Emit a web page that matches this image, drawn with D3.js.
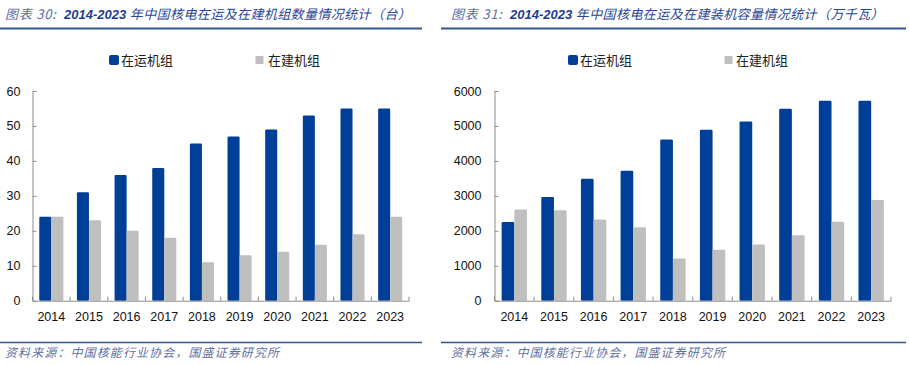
<!DOCTYPE html>
<html><head><meta charset="utf-8">
<script src="https://cdn.jsdelivr.net/npm/d3@7"></script>
<style>
body{margin:0;background:#fff;}
svg{display:block;}
</style></head>
<body>
<svg id="c" width="909" height="365"></svg>
<script>
const years = ["2014","2015","2016","2017","2018","2019","2020","2021","2022","2023"];
const seriesNames = ["在运机组","在建机组"];
const unitsOperating = [24,31,36,38,45,47,49,53,55,55];
const unitsBuilding  = [24,23,20,18,11,13,14,16,19,24];
const capOperating = [2250,2970,3490,3720,4610,4890,5130,5490,5720,5720];
const capBuilding  = [2610,2590,2320,2100,1210,1460,1610,1870,2260,2880];
const unitsTicks = [0,10,20,30,40,50,60];
const capTicks = [0,1000,2000,3000,4000,5000,6000];
const titleLeft = ["图表 30:","  2014-2023 ","年中国核电在运及在建机组数量情况统计（台）"];
const titleRight = ["图表 31:","  2014-2023 ","年中国核电在运及在建装机容量情况统计（万千瓦）"];
const sourceText = "资料来源：中国核能行业协会，国盛证券研究所";

const colors = ["#003F98","#BFBFBF"];
const svg = d3.select("#c");
const numFont = "'Liberation Sans', Arial, sans-serif";
const cjkFont = "'Noto Sans CJK SC', sans-serif";

function panel(opt){
  const g = svg.append("g");
  // title
  const t = g.append("text").attr("x", opt.titleX).attr("y", 19)
    .attr("font-size", 13).attr("font-style","italic").attr("font-family", cjkFont)
    .attr("xml:space","preserve");
  t.append("tspan").attr("fill","#5b6aa6").attr("letter-spacing",0.8).text(opt.title[0]);
  t.append("tspan").attr("fill","#1f3d8f").attr("font-weight","bold").attr("font-family", numFont).text(opt.title[1]);
  t.append("tspan").attr("fill","#2a4596").attr("letter-spacing",0.4).text(opt.title[2]);
  g.append("line").attr("x1", opt.lineX0).attr("x2", opt.lineX1).attr("y1",28.5).attr("y2",28.5)
    .attr("stroke","#2F5597").attr("stroke-width",2);
  g.append("line").attr("x1", opt.lineX0).attr("x2", opt.lineX1).attr("y1",342.5).attr("y2",342.5)
    .attr("stroke","#2F5597").attr("stroke-width",1.5);
  g.append("text").attr("x", opt.titleX).attr("y", 357).attr("font-size",12).attr("font-style","italic")
    .attr("letter-spacing",1.1)
    .attr("font-family", cjkFont).attr("fill","#5f6f9f").text(sourceText);

  // legend
  const lg = g.append("g");
  opt.legend.forEach((L,i)=>{
    const s = i===0 ? 10 : 8;
    lg.append("rect").attr("x", L[0]).attr("y", 60 - s/2).attr("width", s).attr("height", s)
      .attr("rx", i===0?2:0).attr("fill", colors[i]);
    lg.append("text").attr("x", L[1]).attr("y", 64.5).attr("font-size",13).attr("font-family", cjkFont)
      .attr("fill","#222").text(seriesNames[i]);
  });

  const x = d3.scaleBand().domain(years).range([opt.x0, opt.x1]).padding(0);
  const step = x.step();
  const inner = d3.scaleBand().domain([0,1]).range([step*0.18, step*0.82]).padding(0);
  const y = d3.scaleLinear().domain([0, opt.max]).range([300.7, 91]);

  // bars
  [opt.a, opt.b].forEach((vals,si)=>{
    g.append("g").selectAll("rect").data(vals).join("rect")
      .attr("x",(d,i)=>x(years[i])+inner(si))
      .attr("width", inner.bandwidth())
      .attr("y", d=>y(d))
      .attr("height", d=>y(0)-y(d))
      .attr("rx",1.2)
      .attr("fill", colors[si]);
  });

  // y axis
  const ya = g.append("g").attr("transform",`translate(${opt.x0},0)`)
    .call(d3.axisLeft(y).tickValues(opt.ticks).tickFormat(d3.format("d"))
      .tickSizeInner(-4).tickSizeOuter(0).tickPadding(opt.pad));
  ya.select(".domain").attr("stroke","#8c8c8c");
  ya.selectAll(".tick line").attr("stroke","#8c8c8c");
  ya.selectAll("text").attr("font-size",12.5).attr("font-family",numFont).attr("fill","#111");

  // x axis
  const xa = g.append("g").attr("transform",`translate(0,300.7)`)
    .call(d3.axisBottom(x).tickSize(0).tickPadding(11));
  xa.select(".domain").attr("stroke","#8c8c8c");
  xa.selectAll("text").attr("font-size",12.5).attr("font-family",numFont).attr("fill","#111");
  const bounds = years.map(yy=>x(yy)).concat([opt.x1]);
  xa.selectAll(".bd").data(bounds).join("line").attr("class","bd")
    .attr("x1",d=>d).attr("x2",d=>d).attr("y1",-4).attr("y2",0).attr("stroke","#8c8c8c");
}

panel({titleX:5, lineX0:0, lineX1:422, x0:32.5, x1:409, max:60, ticks:unitsTicks, pad:12,
  a:unitsOperating, b:unitsBuilding, title:titleLeft, legend:[[109,121],[255.5,268]]});
panel({titleX:451, lineX0:441, lineX1:906, x0:494.5, x1:891, max:6000, ticks:capTicks, pad:13,
  a:capOperating, b:capBuilding, title:titleRight, legend:[[568,580],[724.5,736]]});
</script>
</body></html>
